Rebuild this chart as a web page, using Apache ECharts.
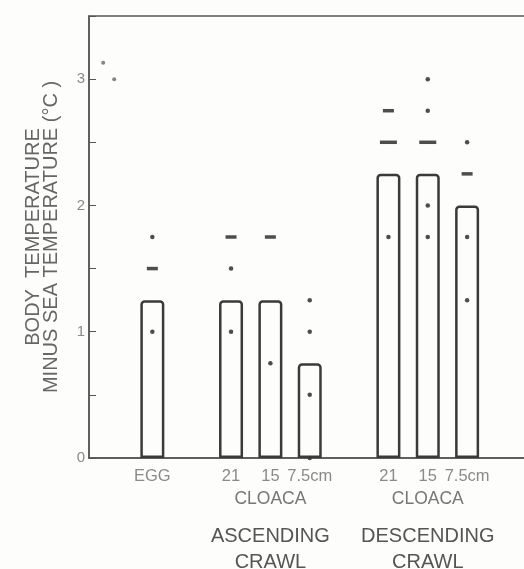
<!DOCTYPE html>
<html>
<head>
<meta charset="utf-8">
<script src="https://cdn.jsdelivr.net/npm/echarts@6/dist/echarts.min.js"></script>
<style>
  html, body { margin: 0; padding: 0; background: #fdfdfc; }
  #chart { width: 524px; height: 569px; }
</style>
</head>
<body>
<div id="chart"></div>
<script>
// column slots along x (blank slots between groups)
const slots      = [1, 3, 4, 5, 7, 8, 9]
const tickLabels = ['EGG', '21', '15', '7.5cm', '21', '15', '7.5cm']
const meanValues = [1.25, 1.25, 1.25, 0.75, 2.25, 2.25, 2.0]   // bar heights

// individual readings per column: [value, how many overlap]
const eggObs   = [[1.75, 1], [1.5, 2], [1.0, 1]]
const asc21Obs = [[1.75, 2], [1.5, 1], [1.0, 1]]
const asc15Obs = [[1.75, 2], [0.75, 1]]
const asc75Obs = [[1.25, 1], [1.0, 1], [0.5, 1], [0, 1]]
const des21Obs = [[2.75, 2], [2.5, 3], [1.75, 1]]
const des15Obs = [[3.0, 1], [2.75, 1], [2.5, 3], [2.0, 1], [1.75, 1]]
const des75Obs = [[2.5, 1], [2.25, 2], [1.75, 1], [1.25, 1]]
const observations = [eggObs, asc21Obs, asc15Obs, asc75Obs, des21Obs, des15Obs, des75Obs]

const strayPoints = [[-0.25, 3.13], [0.03, 3.0]]

const siteSlots   = [4, 8]
const siteLabel   = 'CLOACA'
const groupLabels = ['ASCENDING\nCRAWL', 'DESCENDING\nCRAWL']

const yTicks = [0, 1, 2, 3]

const ink = '#3a3a3a'
const chart = echarts.init(document.getElementById('chart'))

const pointData = []
observations.forEach((obs, i) => {
  obs.forEach(([v, n]) => {
    pointData.push({
      value: [slots[i], v],
      symbol: n > 1 ? 'rect' : 'circle',
      symbolSize: n > 1 ? [6 * n - 1, 3.5] : 4.5
    })
  })
})

function labelAxis(values, texts, offset, style) {
  return {
    type: 'value', position: 'bottom', min: -0.61, max: 10.7, offset: offset,
    axisLine: { show: false, onZero: false }, axisTick: { show: false }, splitLine: { show: false },
    axisLabel: Object.assign({
      customValues: values,
      formatter: v => texts[values.indexOf(v)] || '',
      hideOverlap: false
    }, style)
  }
}

const option = {
  backgroundColor: '#fdfdfc',
  animation: false,
  grid: {
    left: 89, top: 16, right: -10, bottom: 111,
    outerBoundsMode: 'none',
    show: true, borderColor: '#555', borderWidth: 1.5
  },
  xAxis: [
    Object.assign(labelAxis(slots, tickLabels, 0,
      { margin: 10, fontSize: 16.5, color: '#8a8a8a', fontFamily: 'Liberation Sans' }),
      { axisLine: { show: true, onZero: false, lineStyle: { color: '#555', width: 1.5 } } }),
    labelAxis(siteSlots, siteSlots.map(() => siteLabel), 32,
      { margin: 0, fontSize: 17.5, color: '#777', fontFamily: 'Liberation Sans' }),
    labelAxis(siteSlots, groupLabels, 65,
      { margin: 0, fontSize: 20, lineHeight: 26, color: '#555', fontFamily: 'Liberation Sans' })
  ],
  yAxis: {
    type: 'value', min: 0, max: 3.5, interval: 0.5,
    name: 'BODY  TEMPERATURE\nMINUS SEA TEMPERATURE (°C )',
    nameLocation: 'middle', nameRotate: 90, nameGap: 29,
    nameTextStyle: { fontSize: 20, lineHeight: 18, color: '#666', fontFamily: 'Liberation Sans' },
    axisLine: { show: true, onZero: false, lineStyle: { color: '#555', width: 1.5 } },
    axisTick: { show: true, inside: true, length: 7, lineStyle: { color: '#555' } },
    axisLabel: {
      margin: 4, fontSize: 15, color: '#8a8a8a', fontFamily: 'Liberation Sans',
      formatter: v => yTicks.includes(v) ? String(v) : ''
    },
    splitLine: { show: false }
  },
  series: [
    {
      type: 'bar',
      xAxisIndex: 0,
      barWidth: 24,
      data: slots.map((s, i) => [s, meanValues[i]]),
      itemStyle: {
        color: 'rgba(0,0,0,0)', borderColor: ink, borderWidth: 2.5,
        borderRadius: [3, 3, 0, 0]
      }
    },
    {
      type: 'scatter',
      xAxisIndex: 0,
      data: pointData,
      itemStyle: { color: ink, opacity: 0.9 }
    },
    {
      type: 'scatter',
      xAxisIndex: 0,
      data: strayPoints,
      symbolSize: 4,
      itemStyle: { color: '#666', opacity: 0.8 }
    }
  ]
}
chart.setOption(option)
</script>
</body>
</html>
